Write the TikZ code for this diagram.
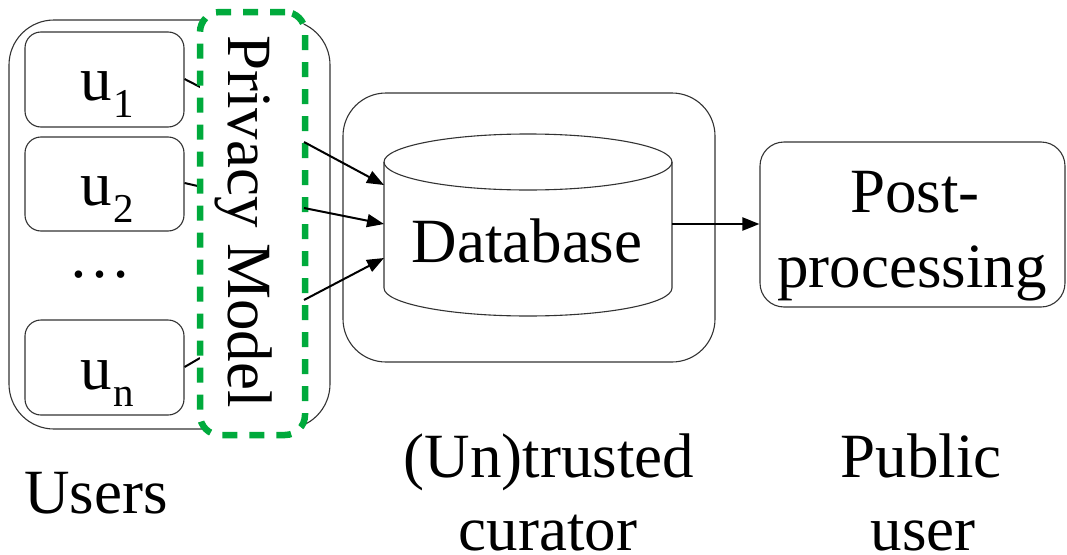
\documentclass[tikz,border=0pt]{standalone}
\usepackage{fontspec}
\setmainfont{Liberation Serif}
\usetikzlibrary{arrows.meta}
\definecolor{pmgreen}{RGB}{0,170,60}
\newcommand{\usub}[1]{\raisebox{-17pt}{\fontsize{41}{41}\selectfont #1}}
\begin{document}
\begin{tikzpicture}[x=1pt,y=-1pt,
  thinbox/.style={draw=black!80, line width=1.1pt, fill=white, inner sep=0pt},
  lbl/.style={font=\fontsize{63}{73}\selectfont, inner sep=0pt, align=center},
  arr/.style={line width=2pt, -{Triangle[length=17pt,width=13pt]}},
  tick/.style={line width=2pt}]
\useasboundingbox (0,0) rectangle (1067,554);
% users outer box
\node[thinbox, rounded corners=45pt, minimum width=321pt, minimum height=409pt] (users) at (169.5,224.5) {};
% user boxes
\node[thinbox, rounded corners=16pt, minimum width=159pt, minimum height=95pt] (u1) at (104.5,79.5) {};
\node[thinbox, rounded corners=16pt, minimum width=159pt, minimum height=94pt] (u2) at (104.5,184) {};
\node[thinbox, rounded corners=16pt, minimum width=159pt, minimum height=95pt] (un) at (104.5,367.5) {};
\node[lbl, anchor=base west] (t1) at (80,100) {u\kern2pt\usub{1}};
\node[lbl, anchor=base west] (t2) at (80,205) {u\kern2pt\usub{2}};
\node[lbl, anchor=base west] (tn) at (80,389) {u\kern2pt\usub{n}};
\node[lbl, anchor=base] (dots) at (100,277) {…};
% ticks from user boxes toward privacy model
\coordinate (p1) at (202,88);
\coordinate (p2) at (202,187);
\coordinate (pn) at (200,358);
\draw[tick] (u1.east |- 0,79) -- (p1);
\draw[tick] (u2.east |- 0,183) -- (p2);
\draw[tick] (un.east |- 0,367) -- (pn);
% privacy model dashed box
\node[draw=pmgreen, line width=6.5pt, dash pattern=on 15pt off 12pt, fill=white,
      rounded corners=20pt, minimum width=105pt, minimum height=423pt, inner sep=0pt] (pm) at (252.5,223.5) {};
\node[lbl, rotate=-90, anchor=base] (pmtext) at (228,221.5) {Privacy Model};
% curator box
\node[thinbox, rounded corners=43pt, minimum width=372pt, minimum height=269pt] (cur) at (529,227.5) {};
% database cylinder
\coordinate (dbl1) at (384,185);
\coordinate (dbl2) at (384,224);
\coordinate (dbl3) at (384,258);
\coordinate (dbr) at (672,224);
\draw[black!80, line width=1.1pt, fill=white]
  (384,162) -- (384,288) arc[start angle=180, end angle=360, x radius=144pt, y radius=28pt]
  -- (672,162) arc[start angle=0, end angle=180, x radius=144pt, y radius=28pt] -- cycle;
\draw[black!80, line width=1.1pt] (384,162) arc[start angle=180, end angle=360, x radius=144pt, y radius=28pt];
\node[lbl, anchor=base] (db) at (527,262) {Database};
% post-processing box
\node[thinbox, rounded corners=24pt, minimum width=305pt, minimum height=165pt] (post) at (912.5,224.5) {};
\node[lbl, anchor=base] (posta) at (915,212) {Post-};
\node[lbl, anchor=base] (postb) at (912,287) {processing};
% arrows
\coordinate (a1) at (304,142);
\coordinate (a2) at (304,208);
\coordinate (a3) at (304,300);
\draw[arr] (a1) -- (dbl1);
\draw[arr] (a2) -- (dbl2);
\draw[arr] (a3) -- (dbl3);
\draw[arr] (dbr) -- (post.west |- dbr);
% bottom labels
\node[lbl, anchor=base] (lusers) at (96,513) {Users};
\node[lbl, anchor=base] (lcur1) at (549,477) {(Un)trusted};
\node[lbl, anchor=base] (lcur2) at (548,550) {curator};
\node[lbl, anchor=base] (lpub1) at (921,477) {Public};
\node[lbl, anchor=base] (lpub2) at (923,550) {user};
\end{tikzpicture}
\end{document}
